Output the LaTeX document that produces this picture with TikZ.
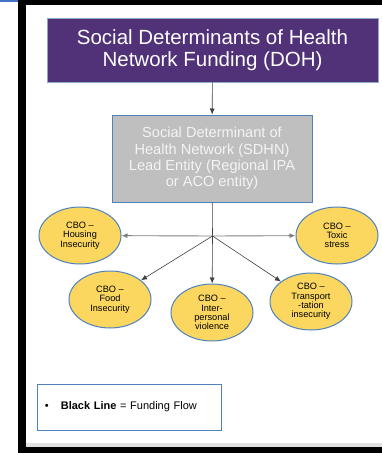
\documentclass[tikz,border=0pt]{standalone}
\usepackage{fontspec}
\setmainfont{Liberation Sans}
\usetikzlibrary{shapes.geometric,arrows.meta}
\definecolor{doh}{RGB}{81,49,120}
\definecolor{dohline}{RGB}{140,168,204}
\definecolor{lead}{RGB}{191,191,191}
\definecolor{leadtext}{RGB}{244,244,244}
\definecolor{cbo}{RGB}{252,215,96}
\definecolor{edge}{RGB}{79,129,189}
\definecolor{frame}{RGB}{68,114,196}

\begin{document}
\begin{tikzpicture}[x=1pt,y=-1pt,>={Latex[length=6pt,width=5pt]}]
        \tikzstyle{cbo}=[ellipse, draw=edge, line width=1pt, fill=cbo, minimum width=82pt, minimum height=57pt, inner sep=0pt, align=center, font=\fontsize{9.2}{9.3}\selectfont]
        \tikzstyle{flow}=[->, draw=black!75, line width=0.6pt]
        \useasboundingbox (0,0) rectangle (382,453);
        % slide frame
        \fill[frame] (0,0) rectangle (18,2);
        \fill[black] (18,0) rectangle (382,5);
        \fill[black] (18,0) rectangle (26,453);
        \fill[black!12] (26,443) rectangle (382,447);
        \fill[black] (18,447) rectangle (382,453);
        \node[rectangle, draw=dohline, line width=1pt, fill=doh, text=white, minimum width=331pt, minimum height=64pt, inner sep=0pt, align=center, font=\fontsize{20.5}{22}\selectfont] (doh) at (212.5,50) {Social Determinants of Health\\Network Funding (DOH)};
        \node[rectangle, draw=edge, line width=1pt, fill=lead, text=leadtext, minimum width=200pt, minimum height=87pt, inner sep=0pt, align=center, font=\fontsize{14.6}{16.3}\selectfont] (sdhn) at (212,158.5) {Social Determinant of\\Health Network (SDHN)\\Lead Entity (Regional IPA\\or ACO entity)};
        \coordinate (hub) at (212.5,236);
        \node[cbo] (housing) at (80,235.5) {CBO --\\Housing\\Insecurity};
        \node[cbo] (toxic) at (337,235.5) {CBO --\\Toxic\\stress};
        \node[cbo] (food) at (110,299.5) {CBO --\\Food\\Insecurity};
        \node[cbo] (violence) at (212,312.5) {CBO --\\Inter-\\personal\\violence};
        \node[cbo] (transport) at (311,301.5) {CBO --\\Transport\\-tation\\insecurity};
        \draw[flow] (doh) -- (sdhn);
        \draw[black!75, line width=0.6pt] (sdhn) -- (hub);
        \draw[->, draw=black!50, line width=0.9pt] (hub) -- (housing);
        \draw[->, draw=black!50, line width=0.9pt] (hub) -- (toxic);
        \draw[flow] (hub) -- (food);
        \draw[flow] (hub) -- (violence);
        \draw[flow] (hub) -- (transport);
        % legend
        \node[rectangle, draw=edge, line width=0.8pt, minimum height=46pt, text width=168pt, inner xsep=8pt, align=left, font=\fontsize{11}{13}\selectfont] (legend) at (129,407) {\textbullet\hspace{12pt}\textbf{Black Line} = Funding Flow};
      \end{tikzpicture}
\end{document}
